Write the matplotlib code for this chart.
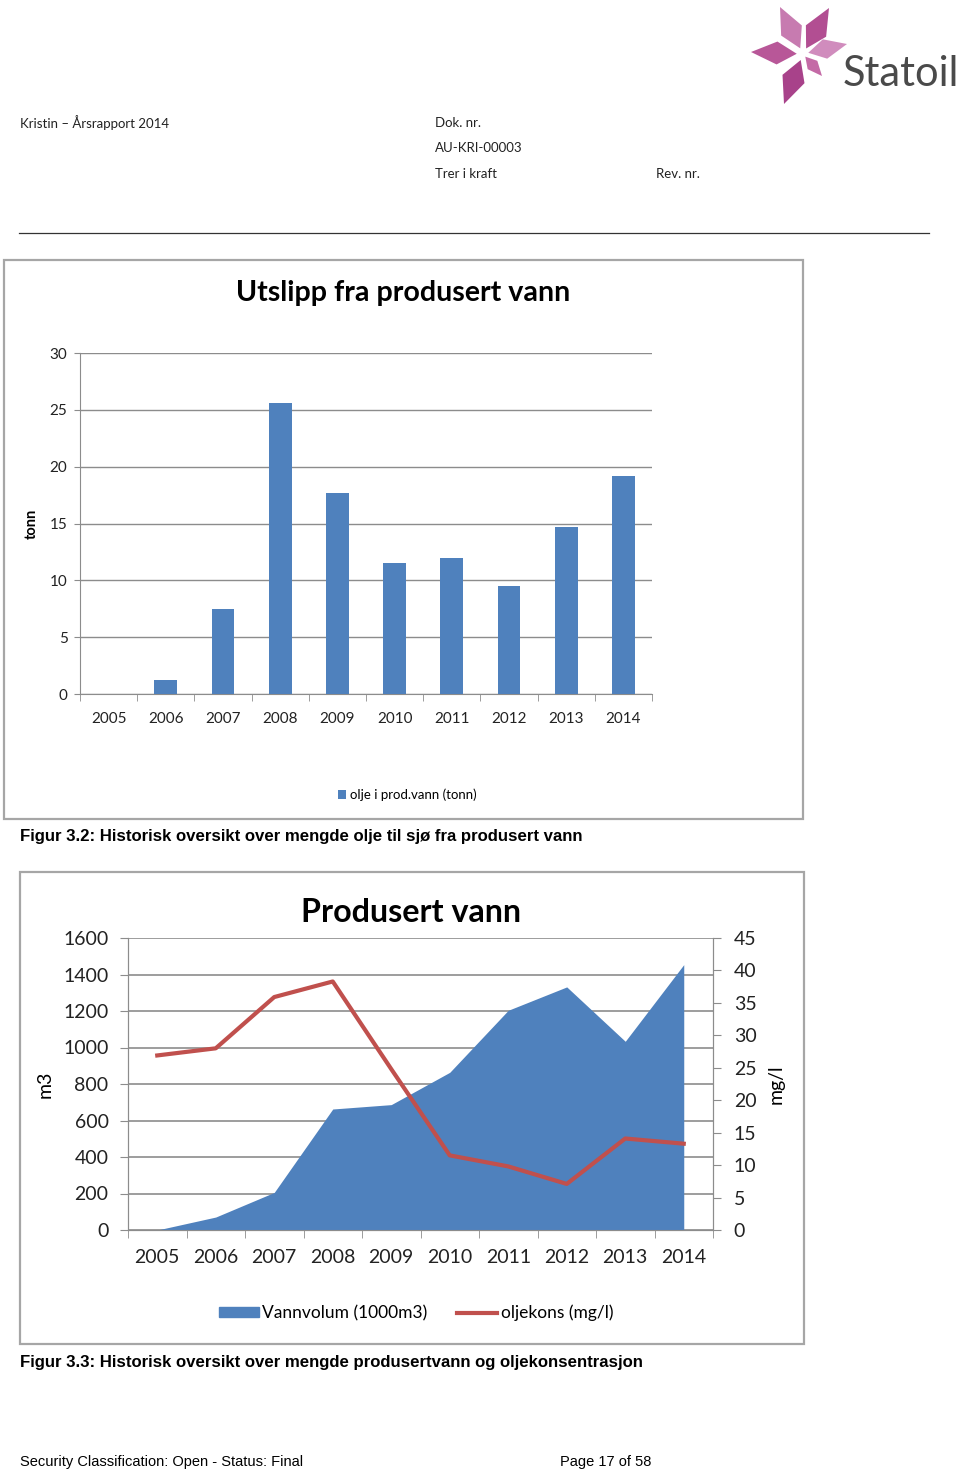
import numpy as np
import matplotlib
matplotlib.use('Agg')
import matplotlib.pyplot as plt
from matplotlib.patches import Rectangle, Polygon, Patch
from matplotlib.lines import Line2D

# data
years = ['2005', '2006', '2007', '2008', '2009', '2010', '2011', '2012', '2013', '2014']
olje_tonn = [0.0, 1.2, 7.5, 25.6, 17.7, 11.5, 12.0, 9.5, 14.7, 19.2]
vannvolum = [0, 71, 206, 663, 687, 864, 1204, 1332, 1034, 1454]
oljekons = [26.9, 28.0, 35.9, 38.3, 24.8, 11.5, 9.8, 7.1, 14.1, 13.3]

W, H = 960, 1472
BLUE = '#4F81BD'
RED = '#C0504D'
GRID = '#8C8C8C'
CAL = ['Lato', 'DejaVu Sans']
ARIAL = ['Liberation Sans', 'DejaVu Sans']


def box(l, t, r, b):
    # pixel box -> figure fraction
    return [l / W, 1 - b / H, (r - l) / W, (b - t) / H]


def ftext(x, y, s, **kw):
    fig.text(x / W, 1 - y / H, s, **kw)


fig = plt.figure(figsize=(W / 100, H / 100), dpi=100)

# page decorations in pixel coordinates
deco = fig.add_axes([0, 0, 1, 1], zorder=-5)
deco.set_xlim(0, W)
deco.set_ylim(H, 0)
deco.axis('off')

# logo star
cx, cy = 803, 54
tips = [(780, 7, '#C77BB0'), (829, 8, '#B24E92'), (847, 44, '#D08CBD'),
        (751, 52, '#B85798'), (784, 104, '#A8428A'), (822, 76, '#C46AA6')]
for tx, ty, c in tips:
    dx, dy = tx - cx, ty - cy
    L = np.hypot(dx, dy)
    ux, uy = dx / L, dy / L
    px, py = -uy, ux
    s0 = 0.12 * L
    wdt = 0.22 * L
    pts = [(cx + ux * s0, cy + uy * s0),
           (cx + dx * 0.5 + px * wdt, cy + dy * 0.5 + py * wdt),
           (tx, ty),
           (cx + dx * 0.5 - px * wdt, cy + dy * 0.5 - py * wdt)]
    deco.add_patch(Polygon(pts, closed=True, color=c, lw=0))
ftext(843, 74, 'Statoil', fontsize=30, color='#4A4A4A', va='center', ha='left',
      family=['Liberation Sans Narrow', 'Lato', 'DejaVu Sans'])

# header
hkw = dict(fontsize=9.5, color='#222222', va='center', family=CAL)
ftext(20, 123, 'Kristin – Årsrapport 2014', **hkw)
ftext(435, 123, 'Dok. nr.', **hkw)
ftext(435, 148, 'AU-KRI-00003', **hkw)
ftext(435, 174, 'Trer i kraft', **hkw)
ftext(656, 174, 'Rev. nr.', **hkw)
deco.plot([19, 929], [233, 233], color='#333333', lw=0.9)

# chart frames
deco.add_patch(Rectangle((4, 260), 799, 559, fill=False, ec='#A6A6A6', lw=1.6))
deco.add_patch(Rectangle((20, 872), 784, 472, fill=False, ec='#A6A6A6', lw=1.6))

# ---------------- chart 1 ----------------
x = np.arange(len(years))
ax1 = fig.add_axes(box(80, 353, 652, 694))
ax1.bar(x, olje_tonn, width=0.4, color=BLUE, zorder=3, label='olje i prod.vann (tonn)')
ax1.set_xlim(-0.5, 9.5)
ax1.set_ylim(0, 30)
ax1.set_yticks(np.arange(0, 31, 5))
ax1.set_xticks(x)
ax1.set_xticklabels(years)
ax1.set_xticks(np.arange(-0.5, 10, 1), minor=True)
ax1.grid(axis='y', color=GRID, lw=1, zorder=0)
for s in ['top', 'right']:
    ax1.spines[s].set_visible(False)
for s in ['left', 'bottom']:
    ax1.spines[s].set_color(GRID)
ax1.tick_params(axis='x', which='major', length=0, pad=13, labelsize=11, labelcolor='#222222')
ax1.tick_params(axis='x', which='minor', length=5, color=GRID)
ax1.tick_params(axis='y', length=4, color=GRID, pad=5, labelsize=11, labelcolor='#222222')
for lab in ax1.get_xticklabels() + ax1.get_yticklabels():
    lab.set_family(CAL)
ax1.set_ylabel('tonn', fontsize=10.5, fontweight='bold', family=CAL, labelpad=8)
ftext(403, 293, 'Utslipp fra produsert vann', fontsize=20.6, fontweight='bold',
      ha='center', va='center', family=CAL)
ax1.legend(loc='center', bbox_to_anchor=(407 / W, 1 - 795 / H), bbox_transform=fig.transFigure,
           frameon=False, handlelength=0.6, handleheight=0.6, handletextpad=0.3,
           prop={'family': CAL, 'size': 9.5})
ftext(20, 836, 'Figur 3.2: Historisk oversikt over mengde olje til sjø fra produsert vann',
      fontsize=12.1, fontweight='bold', va='center', family=ARIAL)

# ---------------- chart 2 ----------------
ax2 = fig.add_axes(box(128, 938, 713, 1230))
ax2.fill_between(x, vannvolum, 0, color=BLUE, lw=0, zorder=3)
ax2.set_xlim(-0.5, 9.5)
ax2.set_ylim(0, 1600)
ax2.set_yticks(np.arange(0, 1601, 200))
ax2.set_xticks(x)
ax2.set_xticklabels(years)
ax2.set_xticks(np.arange(-0.5, 10, 1), minor=True)
ax2.grid(axis='y', color=GRID, lw=1.2, zorder=0)
ax2.spines['top'].set_visible(False)
for s in ['left', 'bottom', 'right']:
    ax2.spines[s].set_color(GRID)
ax2.tick_params(axis='x', which='major', length=0, pad=14, labelsize=14, labelcolor='#222222')
ax2.tick_params(axis='x', which='minor', length=6, color=GRID)
ax2.tick_params(axis='y', length=6, color=GRID, pad=8, labelsize=14, labelcolor='#222222')
for lab in ax2.get_xticklabels() + ax2.get_yticklabels():
    lab.set_family(CAL)
ax2.set_ylabel('m3', fontsize=14, family=CAL, labelpad=7)

ax3 = ax2.twinx()
ax3.plot(x, oljekons, color=RED, lw=3, zorder=4)
ax3.set_ylim(0, 45)
ax3.set_yticks(np.arange(0, 46, 5))
ax3.spines['top'].set_visible(False)
for s in ['left', 'bottom', 'right']:
    ax3.spines[s].set_color(GRID)
ax3.tick_params(axis='y', length=6, color=GRID, pad=9, labelsize=14, labelcolor='#222222')
for lab in ax3.get_yticklabels():
    lab.set_family(CAL)
ax3.set_ylabel('mg/l', fontsize=14, family=CAL, labelpad=8)

ftext(411, 912, 'Produsert vann', fontsize=23.2, fontweight='bold',
      ha='center', va='center', family=CAL)
handles = [Patch(color=BLUE), Line2D([], [], color=RED, lw=3)]
ax2.legend(handles, ['Vannvolum (1000m3)', 'oljekons (mg/l)'], loc='center', ncol=2,
           bbox_to_anchor=(416 / W, 1 - 1313 / H), bbox_transform=fig.transFigure,
           frameon=False, handlelength=2.3, handleheight=0.5, handletextpad=0.2,
           columnspacing=1.7, prop={'family': CAL, 'size': 12.5})
ftext(20, 1362, 'Figur 3.3: Historisk oversikt over mengde produsertvann og oljekonsentrasjon',
      fontsize=12.1, fontweight='bold', va='center', family=ARIAL)

# footer
ftext(20, 1462, 'Security Classification: Open - Status: Final', fontsize=10.5,
      va='center', family=ARIAL)
ftext(560, 1462, 'Page 17 of 58', fontsize=10.5, va='center', family=ARIAL)

fig.savefig('out.png', dpi=100)
